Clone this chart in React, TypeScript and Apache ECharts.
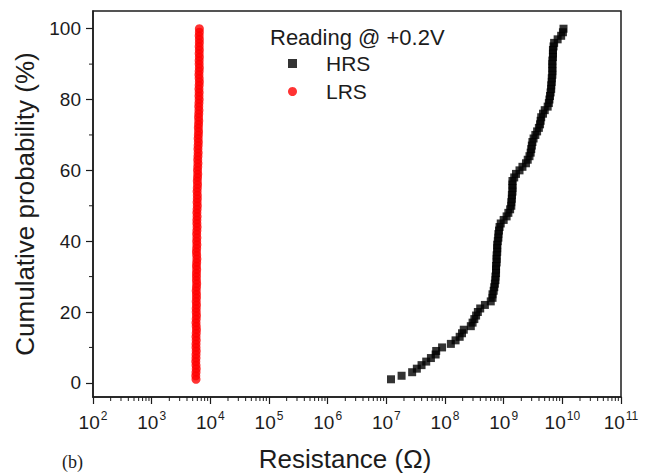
import React, { useEffect, useRef } from "react";
import * as echarts from "echarts";

// Cumulative probability (%) for each sorted reading
const probability = [
  1, 2, 3, 4, 5, 6, 7, 8, 9, 10, 11, 12, 13, 14, 15, 16, 17, 18, 19, 20,
  21, 22, 23, 24, 25, 26, 27, 28, 29, 30, 31, 32, 33, 34, 35, 36, 37, 38, 39, 40,
  41, 42, 43, 44, 45, 46, 47, 48, 49, 50, 51, 52, 53, 54, 55, 56, 57, 58, 59, 60,
  61, 62, 63, 64, 65, 66, 67, 68, 69, 70, 71, 72, 73, 74, 75, 76, 77, 78, 79, 80,
  81, 82, 83, 84, 85, 86, 87, 88, 89, 90, 91, 92, 93, 94, 95, 96, 97, 98, 99, 100,
];

// HRS resistance, as log10(ohm)
const hrsLog10 = [
  7.08, 7.26, 7.44, 7.52, 7.6, 7.68, 7.76, 7.84, 7.85, 7.95,
  8.1, 8.18, 8.25, 8.29, 8.32, 8.44, 8.47, 8.5, 8.53, 8.56,
  8.6, 8.68, 8.78, 8.81, 8.81, 8.83, 8.84, 8.85, 8.86, 8.86,
  8.87, 8.87, 8.87, 8.88, 8.88, 8.88, 8.89, 8.89, 8.89, 8.9,
  8.91, 8.91, 8.92, 8.93, 8.95, 9.0, 9.05, 9.08, 9.11, 9.13,
  9.13, 9.14, 9.14, 9.15, 9.15, 9.15, 9.15, 9.18, 9.21, 9.27,
  9.32, 9.38, 9.41, 9.44, 9.46, 9.47, 9.48, 9.49, 9.51, 9.54,
  9.57, 9.6, 9.62, 9.63, 9.64, 9.67, 9.7, 9.75, 9.77, 9.78,
  9.79, 9.8, 9.81, 9.81, 9.82, 9.82, 9.83, 9.83, 9.83, 9.83,
  9.83, 9.84, 9.84, 9.84, 9.85, 9.86, 9.92, 9.98, 10.01, 10.02,
];

// LRS resistance (ohm)
const lrsOhm = [
  5700, 5650, 5700, 5750, 5700, 5650, 5700, 5700, 5750, 5700,
  5700, 5750, 5700, 5750, 5800, 5750, 5700, 5750, 5800, 5750,
  5750, 5800, 5750, 5800, 5800, 5750, 5800, 5850, 5800, 5800,
  5800, 5850, 5800, 5850, 5900, 5850, 5800, 5850, 5900, 5850,
  5900, 5850, 5900, 5950, 5900, 5900, 5950, 5900, 5950, 6000,
  5950, 6000, 6000, 5950, 6000, 6050, 6000, 6050, 6100, 6050,
  6100, 6150, 6100, 6150, 6200, 6150, 6200, 6250, 6200, 6250,
  6300, 6250, 6300, 6350, 6300, 6350, 6400, 6350, 6400, 6450,
  6400, 6450, 6400, 6450, 6500, 6450, 6400, 6450, 6500, 6450,
  6450, 6500, 6450, 6500, 6450, 6500, 6500, 6450, 6500, 6500,
];

// Axis ticks
const xMajorTicks = [1e2, 1e3, 1e4, 1e5, 1e6, 1e7, 1e8, 1e9, 1e10, 1e11];
const xMinorMultipliers = [2, 3, 4, 5, 6, 7, 8, 9];
const yMajorTicks = [0, 20, 40, 60, 80, 100];
const yMinorTicks = [10, 30, 50, 70, 90];

const X_MIN = 1e2;
const X_MAX = 1e11;
const Y_MIN = -4;
const Y_MAX = 105;

const INK = "#1c1c1c";
const FONT = "Liberation Sans, Arial, sans-serif";

export default function App() {
  const ref = useRef<HTMLDivElement>(null);

  useEffect(() => {
    if (!ref.current) return;
    const chart = echarts.init(ref.current, null, { renderer: "svg" });

    const hrsData = hrsLog10.map((v, i) => [Math.pow(10, v), probability[i]]);
    const lrsData = lrsOhm.map((v, i) => [v, probability[i]]);

    const xMinor: number[][] = [];
    for (let k = 0; k < xMajorTicks.length - 1; k++) {
      for (const m of xMinorMultipliers) xMinor.push([xMajorTicks[k] * m, Y_MIN]);
    }
    const yMinor = yMinorTicks.map((v) => [X_MIN, v]);

    const option: any = {
      animation: false,
      backgroundColor: "#ffffff",
      grid: {
        left: 93,
        right: 33,
        top: 11,
        bottom: 77,
        show: true,
        borderColor: INK,
        borderWidth: 1.5,
        backgroundColor: "transparent",
      },
      legend: {
        orient: "vertical",
        left: 283,
        top: 48,
        itemWidth: 9,
        itemHeight: 9,
        itemGap: 7,
        data: [
          { name: "HRS", icon: "rect" },
          { name: "LRS", icon: "circle" },
        ],
        textStyle: {
          fontFamily: FONT,
          fontSize: 21,
          color: INK,
          padding: [0, 0, 0, 24],
        },
      },
      graphic: [
        {
          type: "text",
          left: 270,
          top: 26,
          style: {
            text: "Reading @ +0.2V",
            font: `22px ${FONT}`,
            fill: INK,
          },
        },
        {
          type: "text",
          x: 345,
          y: 459,
          style: {
            text: "Resistance (Ω)",
            font: `26px ${FONT}`,
            fill: INK,
            align: "center",
            verticalAlign: "middle",
          },
        },
        {
          type: "text",
          left: 62,
          top: 453,
          style: {
            text: "(b)",
            font: "18px 'Liberation Serif', 'Times New Roman', serif",
            fill: INK,
          },
        },
      ],
      xAxis: {
        type: "log",
        logBase: 10,
        min: X_MIN,
        max: X_MAX,
        axisLine: { show: true, onZero: false, lineStyle: { color: INK, width: 1.5 } },
        axisTick: {
          show: true,
          inside: false,
          length: 7,
          customValues: xMajorTicks,
          lineStyle: { color: INK, width: 1.2 },
        },
        axisLabel: {
          customValues: xMajorTicks,
          margin: 13,
          formatter: (v: number) => `{b|10}{s|${Math.round(Math.log10(v))}}`,
          rich: {
            b: { fontFamily: FONT, fontSize: 19, color: INK, verticalAlign: "bottom" },
            s: { fontFamily: FONT, fontSize: 12, color: INK, verticalAlign: "top", padding: [0, 0, 10, 1] },
          },
        },
        splitLine: { show: false },
        minorTick: { show: false },
      },
      yAxis: {
        type: "value",
        min: Y_MIN,
        max: Y_MAX,
        name: "Cumulative probability (%)",
        nameLocation: "middle",
        nameGap: 54,
        nameTextStyle: { fontFamily: FONT, fontSize: 26, color: INK },
        axisLine: { show: true, onZero: false, lineStyle: { color: INK, width: 1.5 } },
        axisTick: {
          show: true,
          inside: false,
          length: 7,
          customValues: yMajorTicks,
          lineStyle: { color: INK, width: 1.2 },
        },
        axisLabel: {
          customValues: yMajorTicks,
          margin: 12,
          fontFamily: FONT,
          fontSize: 19,
          color: INK,
        },
        splitLine: { show: false },
      },
      series: [
        {
          name: "HRS",
          type: "scatter",
          symbol: "rect",
          symbolSize: 8,
          itemStyle: { color: "#000000" },
          data: hrsData,
          z: 3,
        },
        {
          name: "LRS",
          type: "scatter",
          symbol: "circle",
          symbolSize: 9,
          itemStyle: { color: "#ff0000" },
          data: lrsData,
          z: 3,
        },
        {
          name: "xMinor",
          type: "custom",
          clip: false,
          silent: true,
          data: xMinor,
          renderItem: (params: any, api: any) => {
            const p = api.coord([api.value(0), api.value(1)]);
            return {
              type: "line",
              shape: { x1: p[0], y1: p[1], x2: p[0], y2: p[1] + 4 },
              style: { stroke: INK, lineWidth: 1 },
            };
          },
        },
        {
          name: "yMinor",
          type: "custom",
          clip: false,
          silent: true,
          data: yMinor,
          renderItem: (params: any, api: any) => {
            const p = api.coord([api.value(0), api.value(1)]);
            return {
              type: "line",
              shape: { x1: p[0], y1: p[1], x2: p[0] - 4, y2: p[1] },
              style: { stroke: INK, lineWidth: 1 },
            };
          },
        },
      ],
    };

    chart.setOption(option);
    return () => chart.dispose();
  }, []);

  return (
    <div
      ref={ref}
      style={{ position: "fixed", left: 0, top: 0, width: 654, height: 474, background: "#fff" }}
    />
  );
}
